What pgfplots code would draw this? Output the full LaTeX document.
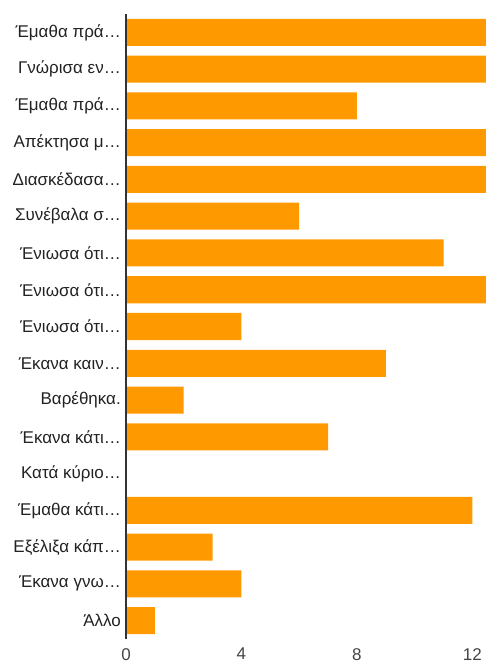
\documentclass[border=0pt]{standalone}
\usepackage{pgfplots}
\usepackage{pgfplotstable}
\usepackage{fontspec}
\pgfplotsset{compat=1.18}
\setmainfont{Liberation Sans}

\definecolor{barorange}{HTML}{FF9900}
\definecolor{labelgray}{HTML}{222222}
\definecolor{tickgray}{HTML}{444444}
\definecolor{axisgray}{HTML}{333333}

% value per answer (top to bottom); bars beyond 12.5 are cut off at the edge
\pgfplotstableread{
idx val
1 14
2 13
3 8
4 14
5 13
6 6
7 11
8 13
9 4
10 9
11 2
12 7
13 0
14 12
15 3
16 4
17 1
}\answers

\begin{document}
\begin{tikzpicture}
\begin{axis}[
    name=ax,
    scale only axis,
    width=360pt, height=625pt,
    xbar, bar width=0.735,
    xmin=0, xmax=12.47,
    ymin=0.5, ymax=17.5,
    y dir=reverse,
    axis on top,
    axis y line*=left, axis x line*=bottom,
    x axis line style={draw=none},
    y axis line style={-, draw=axisgray, line width=2pt},
    xtick={0,4,8,12},
    ytick={1,...,17},
    yticklabels={Έμαθα πρά…, Γνώρισα εν…, Έμαθα πρά…, Απέκτησα μ…, Διασκέδασα…,
      Συνέβαλα σ…, Ένιωσα ότι…, Ένιωσα ότι…, Ένιωσα ότι…, Έκανα καιν…,
      Βαρέθηκα., Έκανα κάτι…, Κατά κύριο…, Έμαθα κάτι…, Εξέλιξα κάπ…,
      Έκανα γνω…, Άλλο},
    major tick length=0pt,
    tick label style={font=\fontsize{17}{20}\selectfont, inner sep=0pt},
    y tick label style={anchor=east, xshift=-5pt, text=labelgray},
    x tick label style={anchor=north, yshift=-9pt, text=tickgray},
    /pgf/number format/assume math mode=true,
]
\addplot[fill=barorange, draw=none] table[x=val, y=idx] {\answers};
\end{axis}
\pgfresetboundingbox
\path[use as bounding box] ([xshift=-126pt, yshift=14pt]ax.north west)
    rectangle ([yshift=-25pt]ax.south east);
\end{tikzpicture}
\end{document}
